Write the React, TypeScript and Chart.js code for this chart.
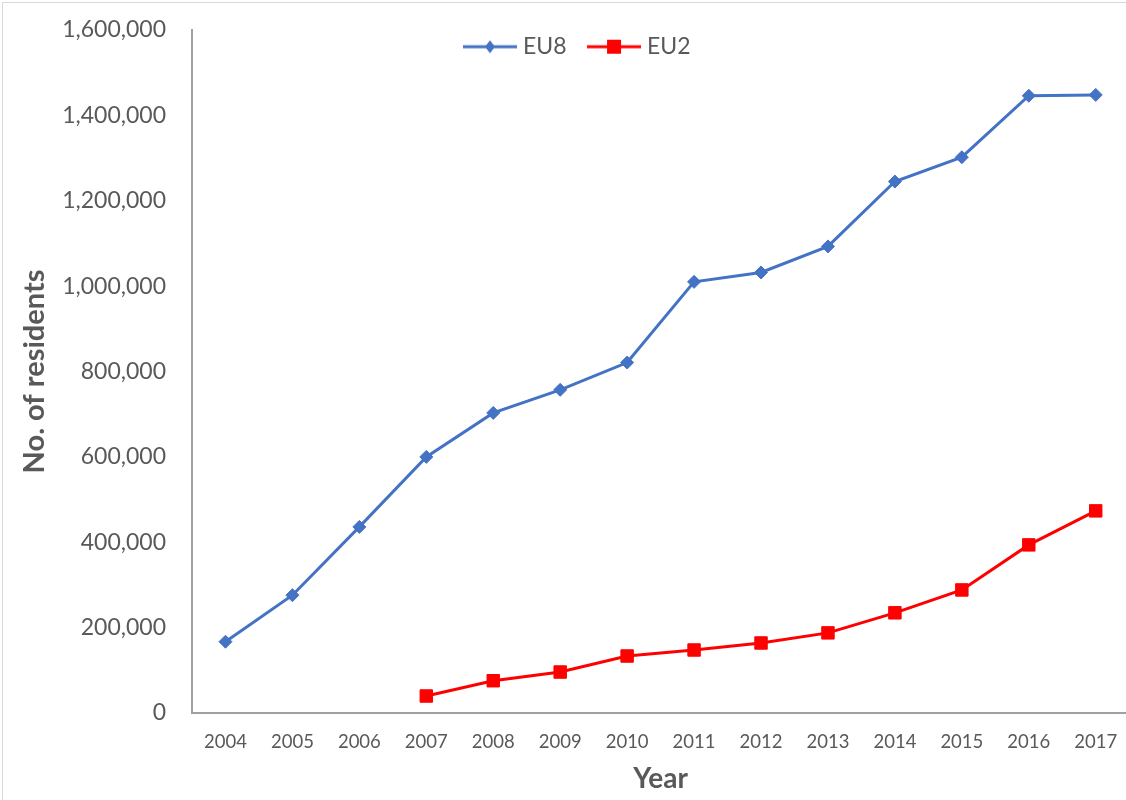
import React, { useEffect, useRef } from 'react';
import { Chart, registerables } from 'chart.js';

Chart.register(...registerables);

const years = ['2004', '2005', '2006', '2007', '2008', '2009', '2010', '2011', '2012', '2013', '2014', '2015', '2016', '2017'];
const eu8Values = [167000, 276000, 436000, 600000, 703000, 757000, 821000, 1010000, 1032000, 1093000, 1245000, 1302000, 1446000, 1448000];
const eu2Values = [null, null, null, 39800, 75600, 96000, 133500, 147600, 164000, 187700, 234700, 288300, 393800, 473500];
const seriesNames = ['EU8', 'EU2'];
const seriesColors = ['#4472C4', '#FF0000'];
const yMin = 0;
const yMax = 1600000;
const yStep = 200000;
const yTitle = 'No. of residents';
const xTitle = 'Year';

const TEXT = '#595959';
const AXIS = '#a0a0a0';
const FONT = 'Lato';

function makeIcon(color: string, kind: 'diamond' | 'square') {
  const c = document.createElement('canvas');
  c.width = 54;
  c.height = 16;
  const ctx = c.getContext('2d')!;
  ctx.strokeStyle = color;
  ctx.lineWidth = 3;
  ctx.beginPath();
  ctx.moveTo(0, 8);
  ctx.lineTo(54, 8);
  ctx.stroke();
  ctx.fillStyle = color;
  if (kind === 'diamond') {
    ctx.beginPath();
    ctx.moveTo(27, 1.5);
    ctx.lineTo(32, 8);
    ctx.lineTo(27, 14.5);
    ctx.lineTo(22, 8);
    ctx.closePath();
    ctx.fill();
  } else {
    ctx.fillRect(20, 1, 14, 14);
  }
  return c;
}

const legendPlacer = {
  id: 'legendPlacer',
  afterLayout(chart: any) {
    const lg = chart.legend;
    if (!lg) return;
    const pad = lg.options.labels.padding;
    const w = lg.right - lg.left;
    const h = lg.bottom - lg.top;
    lg.left = 468.5 - pad;
    lg.right = lg.left + w;
    lg.top = 9.2;
    lg.bottom = lg.top + h;
  },
};

export default function App() {
  const ref = useRef<HTMLCanvasElement | null>(null);

  useEffect(() => {
    document.documentElement.style.overflow = 'hidden';
    document.body.style.margin = '0';
    document.body.style.overflow = 'hidden';
    const canvas = ref.current!;
    const icons = [makeIcon(seriesColors[0], 'diamond'), makeIcon(seriesColors[1], 'square')];
    const chart = new Chart(canvas, {
      type: 'line',
      data: {
        labels: years,
        datasets: [
          {
            label: seriesNames[0],
            data: eu8Values,
            borderColor: seriesColors[0],
            backgroundColor: seriesColors[0],
            borderWidth: 3,
            pointStyle: 'rectRot',
            pointRadius: 6.5,
            pointBorderWidth: 1,
            pointBackgroundColor: seriesColors[0],
            pointBorderColor: seriesColors[0],
            tension: 0,
          },
          {
            label: seriesNames[1],
            data: eu2Values,
            borderColor: seriesColors[1],
            backgroundColor: seriesColors[1],
            borderWidth: 3,
            pointStyle: 'rect',
            pointRadius: 8.8,
            pointBorderWidth: 1,
            pointBackgroundColor: seriesColors[1],
            pointBorderColor: seriesColors[1],
            tension: 0,
          },
        ],
      },
      options: {
        animation: false,
        responsive: false,
        layout: { padding: { top: -29, left: 0, right: 2, bottom: 0 } },
        plugins: {
          tooltip: { enabled: false },
          legend: {
            position: 'top',
            align: 'start',
            labels: {
              usePointStyle: true,
              pointStyleWidth: 43,
              padding: 26,
              color: TEXT,
              font: { family: FONT, size: 23 },
              generateLabels: (ch: any) =>
                ch.data.datasets.map((ds: any, i: number) => ({
                  text: ds.label,
                  pointStyle: icons[i],
                  fillStyle: ds.borderColor,
                  strokeStyle: ds.borderColor,
                  lineWidth: 0,
                  hidden: false,
                  datasetIndex: i,
                  fontColor: TEXT,
                })),
            },
          },
        },
        scales: {
          x: {
            offset: true,
            grid: { display: false, drawTicks: true, tickLength: 15 },
            border: { display: true, color: AXIS, width: 2 },
            ticks: { color: TEXT, font: { family: FONT, size: 18.5 }, padding: 3, maxRotation: 0, autoSkip: false },
            title: {
              display: true,
              text: xTitle,
              color: TEXT,
              font: { family: FONT, size: 28, weight: 'bold', lineHeight: 1.2 },
              padding: { top: 4, bottom: 4 },
            },
            afterFit: (s: any) => {
              s.height = 87;
            },
          },
          y: {
            min: yMin,
            max: yMax,
            grid: { display: false, drawTicks: true, tickLength: 23 },
            border: { display: true, color: AXIS, width: 2 },
            ticks: {
              stepSize: yStep,
              color: TEXT,
              font: { family: FONT, size: 23 },
              padding: 3,
              callback: (v: any) => Number(v).toLocaleString('en-US'),
            },
            title: {
              display: true,
              text: yTitle,
              color: TEXT,
              font: { family: FONT, size: 29, weight: 'bold', lineHeight: 1.2 },
              padding: { top: 17.6, bottom: 4 },
            },
            afterFit: (s: any) => {
              s.width = 192;
            },
          },
        },
      },
      plugins: [legendPlacer],
    } as any);
    return () => chart.destroy();
  }, []);

  return (
    <div style={{ position: 'relative', width: 1126, height: 800, overflow: 'hidden', background: '#fff' }}>
      <canvas ref={ref} width={1139} height={800} style={{ position: 'absolute', left: 0, top: 0 }} />
      <div
        style={{
          position: 'absolute',
          left: 2,
          top: 2,
          width: 2000,
          height: 2000,
          borderLeft: '1px solid #d9d9d9',
          borderTop: '1px solid #d9d9d9',
          pointerEvents: 'none',
        }}
      />
    </div>
  );
}
